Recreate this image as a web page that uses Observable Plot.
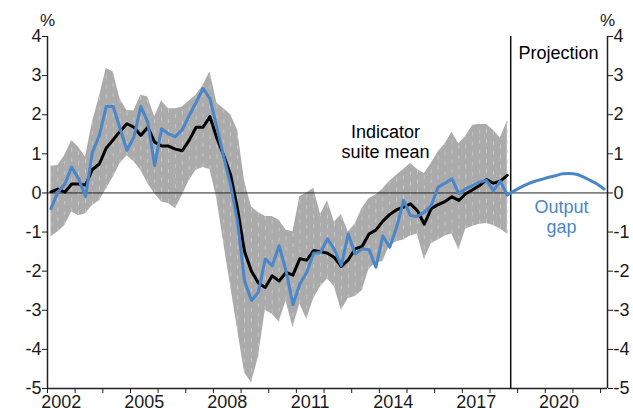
<!DOCTYPE html>
<html><head><meta charset="utf-8">
<script src="https://cdn.jsdelivr.net/npm/d3@7"></script>
<script src="https://cdn.jsdelivr.net/npm/@observablehq/plot@0.6"></script>
<style>html,body{margin:0;padding:0;background:#fff}#chart svg{display:block}</style>
</head><body><div id="chart"></div>
<script>
// Quarterly data, 2002 Q1 .. 2018 Q3 (points at mid-quarter)
const firstQuarter = 2002.125;
const indicatorMean = [0.03,0.1,0.02,0.23,0.23,0.2,0.6,0.74,1.15,1.36,1.58,1.77,1.68,1.47,1.68,1.3,1.2,1.2,1.12,1.08,1.35,1.68,1.68,1.95,1.4,0.95,0.45,-0.42,-1.5,-2.0,-2.3,-2.42,-2.12,-2.25,-2.03,-2.1,-1.68,-1.72,-1.47,-1.5,-1.54,-1.65,-1.88,-1.71,-1.43,-1.37,-1.05,-0.95,-0.72,-0.55,-0.43,-0.36,-0.28,-0.45,-0.8,-0.4,-0.3,-0.22,-0.1,-0.19,-0.02,0.08,0.19,0.34,0.25,0.3,0.45];
const outputGap = [-0.4,0.02,0.23,0.66,0.36,-0.09,1.04,1.47,2.21,2.21,1.64,1.09,1.43,2.21,1.81,0.7,1.64,1.51,1.44,1.62,1.98,2.32,2.67,2.41,1.68,0.91,0.2,-0.75,-2.25,-2.75,-2.54,-1.69,-1.86,-1.35,-1.99,-2.86,-2.33,-2.03,-1.54,-1.52,-1.17,-1.45,-1.85,-1.05,-1.56,-1.43,-1.45,-1.9,-1.1,-1.39,-0.88,-0.19,-0.58,-0.6,-0.49,-0.32,0.15,0.25,0.36,-0.02,0.11,0.19,0.28,0.32,0.06,0.3,-0.05];
const rangeHigh = [0.68,0.7,0.96,1.34,1.17,0.91,1.81,2.45,3.18,3.09,2.4,2.1,2.1,2.5,2.45,1.95,2.35,2.15,2.15,2.2,2.35,2.5,2.75,3.1,2.3,2.15,2.0,1.6,0.3,-0.35,-0.5,-0.6,-0.6,-0.7,-0.95,-1.0,-0.1,0.0,0.12,-0.55,-0.2,-0.75,-0.55,-1.0,-0.8,-0.4,-0.15,-0.05,0.1,0.3,0.45,0.6,0.75,0.6,0.5,0.75,1.05,1.25,1.55,1.25,1.45,1.73,1.75,1.75,1.6,1.4,1.83];
const rangeLow = [-1.12,-1.0,-0.83,-0.49,-0.58,-0.53,-0.32,-0.2,0.1,0.4,0.75,0.95,0.8,0.58,0.24,-0.02,-0.23,-0.27,-0.4,-0.06,0.32,0.58,0.65,0.6,-0.15,-1.3,-2.4,-3.5,-4.6,-4.85,-4.2,-3.0,-3.1,-3.3,-2.76,-3.44,-2.84,-3.23,-2.7,-2.4,-2.2,-2.4,-3.0,-2.7,-2.65,-2.5,-1.95,-1.8,-1.75,-1.35,-1.25,-1.2,-1.1,-1.05,-1.7,-1.3,-1.2,-1.1,-1.05,-1.45,-0.92,-0.85,-0.8,-0.78,-0.83,-0.92,-1.05];
// Output gap projection, 2018 Q3 .. 2022 Q1
const projectedGap = [-0.05,0.05,0.15,0.23,0.3,0.35,0.4,0.44,0.49,0.5,0.48,0.41,0.32,0.23,0.1];
const yTicks = [-5,-4,-3,-2,-1,0,1,2,3,4];
const yearTicks = [2002,2003,2004,2005,2006,2007,2008,2009,2010,2011,2012,2013,2014,2015,2016,2017,2018,2019,2020,2021,2022];
const yearLabels = [2002,2005,2008,2011,2014,2017,2020];
const projectionStart = 2018.75;
const xDomain = [2002, 2022.25];
const yDomain = [-5, 4];

const hist = indicatorMean.map((m, i) => ({date: firstQuarter + i / 4, mean: m, gap: outputGap[i], hi: rangeHigh[i], lo: rangeLow[i]}));
const proj = projectedGap.map((v, i) => ({date: firstQuarter + (hist.length - 1 + i) / 4, gap: v}));

const blue = "#4a86c8";
const font = "Liberation Sans, Arial, sans-serif";

const chart = Plot.plot({
  width: 633, height: 408,
  marginLeft: 47, marginRight: 26, marginTop: 36, marginBottom: 20,
  x: {domain: xDomain},
  y: {domain: yDomain},
  style: {fontFamily: font, fontSize: "18px", color: "#1a1a1a", background: "white", overflow: "visible"},
  marks: [
    Plot.areaY(hist, {x: "date", y1: "lo", y2: "hi", fill: "#ababab"}),
    Plot.ruleX(hist, {x: "date", y1: "lo", y2: "hi", stroke: "#cdcdcd", strokeWidth: 0.8, strokeDasharray: "4,6"}),
    Plot.ruleY([0], {stroke: "#222", strokeWidth: 1}),
    Plot.ruleX([projectionStart], {stroke: "#111", strokeWidth: 1.5}),
    Plot.line(hist, {x: "date", y: "mean", stroke: "#000", strokeWidth: 3}),
    Plot.line(hist, {x: "date", y: "gap", stroke: blue, strokeWidth: 3}),
    Plot.line(proj, {x: "date", y: "gap", stroke: blue, strokeWidth: 3, curve: "monotone-x"}),
    Plot.axisY({anchor: "left", ticks: yTicks, tickSize: 5, tickPadding: 1, tickFormat: d => String(d), label: null, fontSize: 18}),
    Plot.axisY({anchor: "right", ticks: yTicks, tickSize: 5, tickPadding: 1, tickFormat: d => String(d), label: null, fontSize: 18}),
    Plot.axisX({ticks: yearTicks, tickSize: 5, tickFormat: () => "", label: null}),
    Plot.axisX({ticks: yearLabels.map(y => y + 0.5), tickSize: 0, tickPadding: 7, tickFormat: d => String(Math.floor(d)), label: null, fontSize: 18}),
    Plot.ruleX([xDomain[0], xDomain[1]], {stroke: "#222", strokeWidth: 1.5}),
    Plot.ruleY([yDomain[0]], {stroke: "#222", strokeWidth: 1.5}),
    Plot.text(["%"], {x: xDomain[0], y: yDomain[1], dy: -16, fontSize: 17, fill: "#1a1a1a"}),
    Plot.text(["%"], {x: xDomain[1], y: yDomain[1], dy: -16, fontSize: 17, fill: "#1a1a1a"}),
    Plot.text(["Indicator\nsuite mean"], {x: 2014.22, y: 1.31, fontSize: 18, lineHeight: 1.1, fill: "#000"}),
    Plot.text(["Projection"], {x: 2020.48, y: 3.56, fontSize: 18, fill: "#000"}),
    Plot.text(["Output\ngap"], {x: 2020.59, y: -0.6, fontSize: 18, lineHeight: 1.15, fill: blue})
  ]
});
document.getElementById("chart").appendChild(chart);
</script>
</body></html>
